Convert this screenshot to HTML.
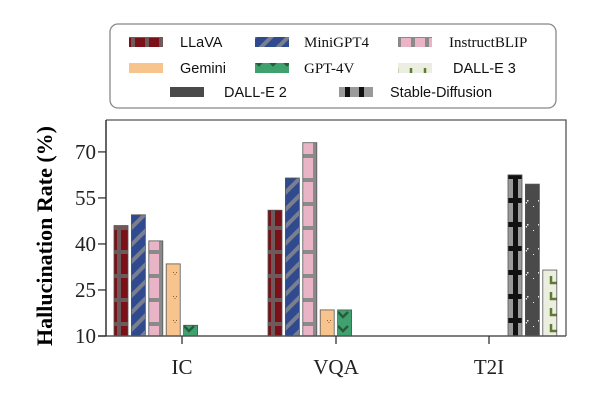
<!DOCTYPE html>
<html><head><meta charset="utf-8"><style>
body{margin:0;background:#fff;width:606px;height:405px;overflow:hidden}
svg{display:block}
</style></head><body>
<svg id="chart" width="606" height="405" xmlns="http://www.w3.org/2000/svg">
<defs>
<pattern id="p0" width="14" height="24" patternUnits="userSpaceOnUse"><rect width="14" height="24" fill="#7a1018"/><rect x="5" width="4" height="24" fill="#6e5a5a"/><rect y="10" width="14" height="4" fill="#6e5a5a"/></pattern>
<pattern id="p1" width="12" height="12" patternUnits="userSpaceOnUse" patternTransform="rotate(45)"><rect width="12" height="12" fill="#2f4a8e"/><rect width="4" height="12" fill="#7a7f90"/></pattern>
<pattern id="p2" width="14" height="24" patternUnits="userSpaceOnUse"><rect width="14" height="24" fill="#e8b4c6"/><rect y="10" width="14" height="4" fill="#8a8a8a"/></pattern>
<pattern id="p2b" width="14" height="24" patternUnits="userSpaceOnUse"><rect width="14" height="24" fill="#e8b4c6"/><rect x="5" width="4" height="24" fill="#8a8a8a"/><rect y="10" width="14" height="4" fill="#8a8a8a"/></pattern>
<pattern id="p3" width="14" height="24" patternUnits="userSpaceOnUse"><rect width="14" height="24" fill="#f8c48e"/><path d="M5 8h1v1h-1zM8 8h1v1h-1zM6.5 10h1v1h-1z" fill="#8a5a3a"/></pattern>
<pattern id="p4" width="14" height="14" patternUnits="userSpaceOnUse"><rect width="14" height="14" fill="#3ea16e"/><path d="M2 4l5 5 5-5" stroke="#2a5a3e" stroke-width="2.5" fill="none"/></pattern>
<pattern id="p5" width="14" height="24" patternUnits="userSpaceOnUse"><rect width="14" height="24" fill="#9a9a9a"/><rect x="9" width="5" height="24" fill="#111"/><rect y="6" width="14" height="5" fill="#111"/></pattern>
<pattern id="p6" width="14" height="24" patternUnits="userSpaceOnUse"><rect width="14" height="24" fill="#4a4a4a"/><path d="M6 8h1.5v1.5h-1.5zM9 8h1.5v1.5h-1.5zM7.5 10h1.5v1.5h-1.5zM1 14h1v1h-1z" fill="#eee"/></pattern>
<pattern id="p7" width="14" height="16" patternUnits="userSpaceOnUse"><rect width="14" height="16" fill="#eceee2"/><path d="M5 4v7h6" stroke="#5f7a32" stroke-width="2.5" fill="none"/></pattern>
</defs>
<g id="plot"></g>
<rect x="110" y="24" width="446" height="84" rx="8" fill="#fff" stroke="#888" stroke-width="1.3"/>
<g id="legend" font-size="14"></g>
<text transform="translate(52,236) rotate(-90)" text-anchor="middle" font-family="Liberation Serif, serif" font-weight="bold" font-size="22">Hallucination Rate (%)</text>
</svg>
<script>
const categories=["IC","VQA","T2I"];
const models=["LLaVA","MiniGPT4","InstructBLIP","Gemini","GPT-4V","Stable-Diffusion","DALL-E 2","DALL-E 3"];
const llava=[46,51,null];
const minigpt4=[49.5,61.5,null];
const instructblip=[41,73,null];
const gemini=[33.5,18.5,null];
const gpt4v=[13.5,18.5,null];
const stablediffusion=[null,null,62.5];
const dalle2=[null,null,59.5];
const dalle3=[null,null,31.5];
const yTicks=[10,25,40,55,70];
const series=[llava,minigpt4,instructblip,gemini,gpt4v,stablediffusion,dalle2,dalle3];
const fills=["url(#p0)","url(#p1)","url(#p2b)","url(#p3)","url(#p4)","url(#p5)","url(#p6)","url(#p7)"];
const NS="http://www.w3.org/2000/svg";
const L=106,R=566,T=120,B=336,ymin=10,ymax=80.4;
const y=v=>B-(v-ymin)/(ymax-ymin)*(B-T);
const xc=[182,336,489];
const stride=17.4,bw=14;
const plot=document.getElementById('plot');
function mk(tag,at,txt){const e=document.createElementNS(NS,tag);for(const k in at)e.setAttribute(k,at[k]);if(txt!=null)e.textContent=txt;return e;}
series.forEach((s,m)=>{s.forEach((v,c)=>{if(v==null)return;
 const r=mk('rect',{x:xc[c]-68+m*stride,y:y(v),width:bw,height:B-y(v),fill:fills[m],stroke:'#555','stroke-width':0.8});
 
 
 plot.appendChild(r);});});
const frame=mk('path',{d:`M${L} ${T}H${R}V${B}`,fill:'none',stroke:'#555','stroke-width':1.3});


plot.appendChild(frame);
const xa=mk('line',{x1:L-8,x2:R,y1:B,y2:B,stroke:'#555','stroke-width':1.5});


plot.appendChild(xa);
const ya=mk('line',{x1:L,x2:L,y1:T,y2:B,stroke:'#333','stroke-width':1.5});


plot.appendChild(ya);
yTicks.forEach(t=>{
 const tl=mk('line',{x1:L-8,x2:L,y1:y(t),y2:y(t),stroke:'#333','stroke-width':1.3});
 
 
 plot.appendChild(tl);
 const tx=mk('text',{x:L-10,y:y(t)+7,'text-anchor':'end','font-family':'Liberation Serif, serif','font-size':21,fill:'#222'},t);
 
 
 plot.appendChild(tx);});
categories.forEach((c,i)=>{
 const tl=mk('line',{x1:xc[i],x2:xc[i],y1:B,y2:B+8,stroke:'#333','stroke-width':1.3});
 
 
 plot.appendChild(tl);
 const tx=mk('text',{x:xc[i],y:B+38,'text-anchor':'middle','font-family':'Liberation Serif, serif','font-size':21,fill:'#222'},c);
 
 
 plot.appendChild(tx);});
const leg=document.getElementById('legend');
const legPos=[[0,129,180,42,0],[1,255,304,42,1],[2,398,449,42,1],[3,129,180,68,0],[4,255,304,68,1],[7,398,453,68,0],[6,170,224,92,0],[5,339,390,92,0]];
legPos.forEach(([m,sx,tx,cy,serif])=>{
 const g=mk('g',{});
 
 
 g.appendChild(mk('rect',{x:sx,y:cy-5,width:34,height:10,fill:fills[m]}));
 g.appendChild(mk('text',{x:tx,y:cy+5,'font-family':serif?'Liberation Serif, serif':'Liberation Sans, sans-serif','font-size':serif?15:14.5,fill:'#111'},models[m]));
 leg.appendChild(g);});
</script>
</body></html>
